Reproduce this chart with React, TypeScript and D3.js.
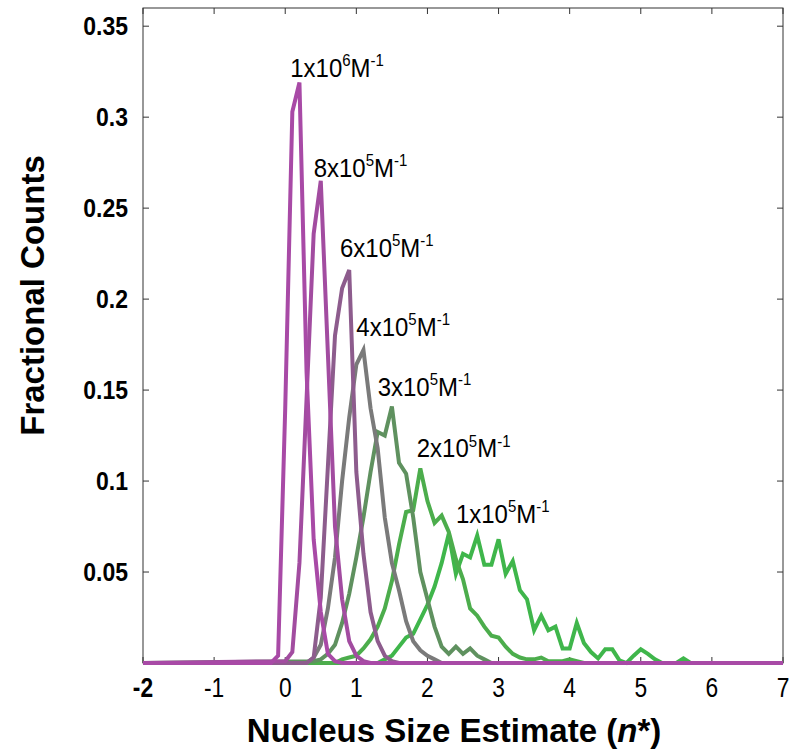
import React from "react";
import * as d3 from "d3";

const STEP = 0.1;

const s1e6Start = -0.2;
const s1e6 = [0, 0.004, 0.14, 0.303, 0.319, 0.16, 0.068, 0.028, 0.005, 0.001, 0];

const s8e5Start = 0.0;
const s8e5 = [0.001, 0.006, 0.055, 0.145, 0.236, 0.265, 0.17, 0.075, 0.035, 0.012, 0.004, 0.001, 0];

const s6e5Start = 0.3;
const s6e5 = [0, 0.003, 0.036, 0.108, 0.18, 0.206, 0.216, 0.105, 0.06, 0.028, 0.012, 0.004, 0.001, 0];

const s4e5Start = 0.3;
const s4e5 = [0, 0.003, 0.01, 0.03, 0.058, 0.1, 0.135, 0.164, 0.172, 0.14, 0.118, 0.08, 0.055, 0.04, 0.023, 0.012, 0.007, 0.004, 0.002, 0];

const s3e5Start = 0.4;
const s3e5 = [0.001, 0.002, 0.005, 0.01, 0.022, 0.038, 0.058, 0.08, 0.105, 0.127, 0.125, 0.141, 0.11, 0.104, 0.08, 0.05, 0.035, 0.02, 0.009, 0.005, 0.009, 0.005, 0.008, 0.004, 0.002, 0];

const s2e5Start = 0.7;
const s2e5 = [0, 0.002, 0.003, 0.004, 0.008, 0.013, 0.02, 0.03, 0.045, 0.065, 0.083, 0.084, 0.107, 0.089, 0.077, 0.081, 0.072, 0.057, 0.046, 0.03, 0.026, 0.02, 0.015, 0.014, 0.009, 0.005, 0.003, 0.002, 0.002, 0.003, 0.001, 0.001, 0.001, 0.002, 0.001, 0];

const s1e5Start = 1.3;
const s1e5 = [0, 0.002, 0.004, 0.009, 0.014, 0.016, 0.024, 0.032, 0.042, 0.055, 0.071, 0.049, 0.06, 0.058, 0.07, 0.054, 0.054, 0.068, 0.049, 0.056, 0.04, 0.035, 0.018, 0.026, 0.018, 0.02, 0.008, 0.008, 0.022, 0.011, 0.006, 0.0025, 0.0075, 0.0075, 0.0015, 0, 0.004, 0.0075, 0.005, 0.002, 0, 0, 0, 0.0025, 0];

const seriesNames = ["1x10^5", "2x10^5", "3x10^5", "4x10^5", "6x10^5", "8x10^5", "1x10^6"];
const seriesStarts = [s1e5Start, s2e5Start, s3e5Start, s4e5Start, s6e5Start, s8e5Start, s1e6Start];
const seriesValues = [s1e5, s2e5, s3e5, s4e5, s6e5, s8e5, s1e6];
const seriesColors = ["#3FB64B", "#4CAD4C", "#5F915F", "#7A7A7A", "#8D5C8D", "#A24CA0", "#A84AA6"];

const labelMantissa = ["1x10", "2x10", "3x10", "4x10", "6x10", "8x10", "1x10"];
const labelExponent = ["5", "5", "5", "5", "5", "5", "6"];
const labelX = [2.4, 1.85, 1.3, 1.0, 0.77, 0.4, 0.07];
const labelY = [0.077, 0.113, 0.147, 0.18, 0.223, 0.267, 0.322];

const xTicks = [-2, -1, 0, 1, 2, 3, 4, 5, 6, 7];
const yTicks = [0.05, 0.1, 0.15, 0.2, 0.25, 0.3, 0.35];

const xDomain = [-2, 7];
const yDomain = [0, 0.36];

export default function App() {
  const W = 800, H = 756;
  const left = 143, right = 783, top = 8, bottom = 663;
  const x = d3.scaleLinear().domain(xDomain).range([left, right]);
  const y = d3.scaleLinear().domain(yDomain).range([bottom, top]);
  const line = d3.line<[number, number]>().x(d => x(d[0])).y(d => y(d[1]));
  const font = "'Liberation Sans', Arial, Helvetica, sans-serif";

  const paths = seriesValues.map((vals, i) => {
    const start = seriesStarts[i];
    const pts: [number, number][] = [[xDomain[0], 0]];
    vals.forEach((v, j) => pts.push([+(start + j * STEP).toFixed(2), v]));
    pts.push([xDomain[1], 0]);
    return line(pts) as string;
  });

  return (
    <svg width={W} height={H} style={{ position: "absolute", left: 0, top: 0, background: "#fff" }} fontFamily={font}>
      <rect x={0} y={0} width={W} height={H} fill="#fff" />
      <rect x={left} y={top} width={right - left} height={bottom - top} fill="none" stroke="#333" strokeWidth={1} />
      {xTicks.map(t => (
        <g key={"xt" + t}>
          <line x1={x(t)} x2={x(t)} y1={bottom} y2={bottom - 6} stroke="#333" strokeWidth={1} />
          <line x1={x(t)} x2={x(t)} y1={top} y2={top + 6} stroke="#333" strokeWidth={1} />
        </g>
      ))}
      {yTicks.map(t => (
        <g key={"yt" + t}>
          <line x1={left} x2={left + 6} y1={y(t)} y2={y(t)} stroke="#333" strokeWidth={1} />
          <line x1={right} x2={right - 6} y1={y(t)} y2={y(t)} stroke="#333" strokeWidth={1} />
        </g>
      ))}
      {paths.map((p, i) => (
        <path key={seriesNames[i]} d={p} fill="none" stroke={seriesColors[i]} strokeWidth={4} strokeLinejoin="miter" />
      ))}
      {xTicks.map((t, i) => (
        <text key={"xl" + t} transform={`translate(${x(t)}, 697) scale(0.95, 1.15)`} textAnchor="middle" fontSize={24} fontWeight={i === 0 ? "bold" : "normal"} fill="#000">
          {String(t)}
        </text>
      ))}
      {yTicks.map(t => (
        <text key={"yl" + t} transform={`translate(128, ${y(t) + 9}) scale(1, 1.15)`} textAnchor="end" fontSize={23} fontWeight="bold" fill="#000">
          {String(t)}
        </text>
      ))}
      {labelMantissa.map((m, i) => (
        <text key={"lab" + i} transform={`translate(${x(labelX[i])}, ${y(labelY[i])}) scale(1, 1.08)`} fontSize={24} fill="#000">
          {m}
          <tspan fontSize={15} dy={-10}>{labelExponent[i]}</tspan>
          <tspan fontSize={24} dy={10}>M</tspan>
          <tspan fontSize={15} dy={-10}>-1</tspan>
        </text>
      ))}
      <text x={(left + right) / 2 - 9} y={742} textAnchor="middle" fontSize={33} fontWeight="bold" fill="#000">
        Nucleus Size Estimate (<tspan fontStyle="italic">n</tspan>*)
      </text>
      <text transform={`translate(44, ${(top + bottom) / 2 - 40}) rotate(-90)`} textAnchor="middle" fontSize={33} fontWeight="bold" fill="#000">
        Fractional Counts
      </text>
    </svg>
  );
}
